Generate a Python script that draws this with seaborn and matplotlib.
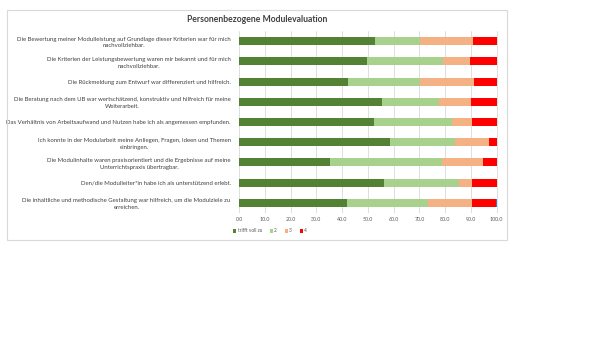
import matplotlib
matplotlib.use("Agg")
import matplotlib.pyplot as plt
import seaborn as sns
import pandas as pd
import numpy as np
from matplotlib.patches import Rectangle

title = "Personenbezogene Modulevaluation"
questions = [
    "Die Bewertung meiner Modulleistung auf Grundlage dieser Kriterien war für mich\nnachvollziehbar.",
    "Die Kriterien der Leistungsbewertung waren mir bekannt und für mich\nnachvollziehbar.",
    "Die Rückmeldung zum Entwurf war differenziert und hilfreich.",
    "Die Beratung nach dem UB war wertschätzend, konstruktiv und hilfreich für meine\nWeiterarbeit.",
    "Das Verhältnis von Arbeitsaufwand und Nutzen habe ich als angemessen empfunden.",
    "Ich konnte in der Modularbeit meine Anliegen, Fragen, Ideen und Themen\neinbringen.",
    "Die Modulinhalte waren praxisorientiert und die Ergebnisse auf meine\nUnterrichtspraxis übertragbar.",
    "Den/die Modulleiter*in habe ich als unterstützend erlebt.",
    "Die inhaltliche und methodische Gestaltung war hilfreich, um die Modulziele zu\nerreichen.",
]
series_names = ["trifft voll zu", "2", "3", "4", "_k.A."]
s1 = [52.8, 49.7, 42.2, 55.4, 52.3, 58.4, 35.3, 56.4, 41.9]
s2 = [17.6, 29.5, 28.0, 22.4, 30.3, 25.4, 43.5, 28.8, 31.5]
s3 = [20.3, 10.3, 20.9, 12.2, 7.9, 13.2, 15.7, 5.2, 17.0]
s4 = [9.3, 10.5, 8.9, 10.0, 9.5, 3.0, 5.5, 9.6, 9.3]
s5 = [0.0, 0.0, 0.0, 0.0, 0.0, 0.0, 0.0, 0.0, 0.3]
xticks = [0, 10, 20, 30, 40, 50, 60, 70, 80, 90, 100]
colors = ["#548235", "#A9D18E", "#F4B183", "#FF0000", "#4472C4"]

sns.set_theme(style="white")
plt.rcParams['font.family'] = ['Lato', 'DejaVu Sans']

fig = plt.figure(figsize=(5.99, 3.37), dpi=100)
fig.patch.set_facecolor("white")
fig.patches.append(Rectangle((7/599, 1-240/337), 500/599, 230/337, transform=fig.transFigure,
                             fill=False, edgecolor="#D9D9D9", linewidth=0.8, zorder=0))

ax = fig.add_axes([239/599, 1-213/337, 259/599, 182/337])

series = [s1, s2, s3, s4, s5]
cum = np.cumsum(np.array(series), axis=0)
df = pd.DataFrame({"q": questions})
for i in range(len(series) - 1, -1, -1):
    df["v"] = cum[i]
    sns.barplot(data=df, y="q", x="v", orient="h", color=colors[i], width=0.4,
                ax=ax, label=series_names[i], saturation=1, linewidth=0, zorder=3)

ax.set_xlim(0, 100.5)
ax.set_xticks(xticks)
ax.set_xticklabels([f"{t:.1f}" for t in xticks], fontsize=3.8, color="#595959")
ax.set_yticks(range(len(questions)))
ax.set_yticklabels(questions, fontsize=4.3, color="#404040", multialignment="center",
                   linespacing=1.45)
ax.tick_params(axis="both", length=0, pad=3)
ax.tick_params(axis="y", pad=6)
ax.set_xlabel("")
ax.set_ylabel("")
ax.grid(axis="x", color="#D9D9D9", linewidth=0.6, zorder=0)
ax.set_axisbelow(True)
for sp in ax.spines.values():
    sp.set_visible(False)
ax.set_facecolor("none")

if ax.get_legend() is not None:
    ax.get_legend().remove()
handles, labels = ax.get_legend_handles_labels()
order = [labels.index(n) for n in series_names[:4]]
fig.legend([handles[k] for k in order], [labels[k] for k in order], loc="center",
           bbox_to_anchor=(270/599, 1-231/337), ncol=4, fontsize=3.4, frameon=False,
           handlelength=0.7, handleheight=0.7, handletextpad=0.3, columnspacing=1.6,
           labelcolor="#595959")

fig.text(257/599, 1-20/337, title, ha="center", va="center", fontsize=6.2,
         color="#404040", fontweight="bold")

fig.savefig("out.png", dpi=100)
